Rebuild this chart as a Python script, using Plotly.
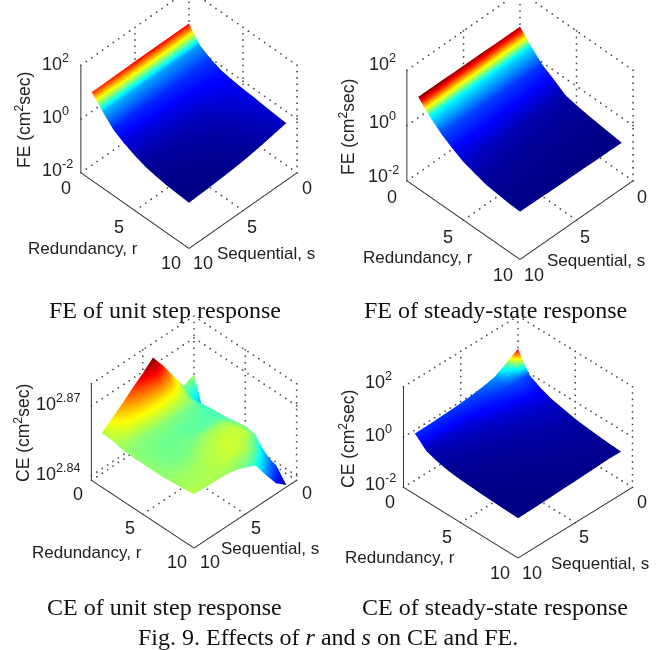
import math
import plotly.graph_objects as go

W, H = 657, 650

r_values = [1, 2, 3, 4, 5, 6, 7, 8, 9, 10]
s_values = [1, 2, 3, 4, 5, 6, 7, 8, 9, 10]
axis_ticks = [0, 5, 10]

# log10 of the response, rows r = 1..10, columns s = 1..10
fe_step_log = [
    [1.30, 1.30, 1.30, 1.30, 1.30, 1.30, 1.29, 1.29, 1.28, 1.28],
    [0.78, 0.78, 0.78, 0.79, 0.80, 0.80, 0.81, 0.82, 0.83, 0.84],
    [0.55, 0.53, 0.52, 0.51, 0.50, 0.49, 0.48, 0.47, 0.46, 0.45],
    [0.40, 0.37, 0.34, 0.31, 0.29, 0.27, 0.25, 0.24, 0.23, 0.22],
    [0.33, 0.29, 0.24, 0.19, 0.15, 0.12, 0.09, 0.07, 0.05, 0.04],
    [0.28, 0.22, 0.15, 0.09, 0.04, 0.00, -0.03, -0.05, -0.08, -0.10],
    [0.25, 0.17, 0.09, 0.02, -0.04, -0.08, -0.11, -0.14, -0.16, -0.18],
    [0.20, 0.12, 0.04, -0.03, -0.09, -0.13, -0.17, -0.20, -0.22, -0.24],
    [0.16, 0.08, 0.00, -0.07, -0.13, -0.17, -0.20, -0.23, -0.25, -0.27],
    [0.13, 0.05, -0.03, -0.10, -0.16, -0.20, -0.23, -0.26, -0.28, -0.30],
]
fe_steady_log = [
    [1.30, 1.30, 1.30, 1.31, 1.31, 1.31, 1.31, 1.32, 1.32, 1.32],
    [0.86, 0.86, 0.86, 0.87, 0.87, 0.88, 0.88, 0.89, 0.89, 0.90],
    [0.48, 0.49, 0.50, 0.51, 0.52, 0.53, 0.54, 0.55, 0.56, 0.57],
    [0.24, 0.24, 0.25, 0.26, 0.27, 0.28, 0.29, 0.30, 0.31, 0.32],
    [-0.03, -0.03, -0.02, -0.01, 0.01, 0.03, 0.05, 0.07, 0.09, 0.10],
    [-0.12, -0.12, -0.12, -0.11, -0.10, -0.09, -0.07, -0.06, -0.04, -0.03],
    [-0.19, -0.19, -0.19, -0.19, -0.18, -0.18, -0.17, -0.16, -0.16, -0.15],
    [-0.24, -0.24, -0.24, -0.24, -0.23, -0.23, -0.22, -0.22, -0.21, -0.20],
    [-0.29, -0.29, -0.29, -0.28, -0.28, -0.27, -0.27, -0.26, -0.26, -0.25],
    [-0.34, -0.33, -0.33, -0.32, -0.31, -0.31, -0.30, -0.29, -0.28, -0.27],
]
ce_step_log = [
    [2.8602, 2.8581, 2.8653, 2.8726, 2.8790, 2.8751, 2.8717, 2.8679, 2.8645, 2.8611],
    [2.8457, 2.8551, 2.8610, 2.8642, 2.8650, 2.8650, 2.8642, 2.8634, 2.8625, 2.8610],
    [2.8448, 2.8559, 2.8580, 2.8585, 2.8589, 2.8593, 2.8593, 2.8593, 2.8596, 2.8598],
    [2.8453, 2.8564, 2.8572, 2.8576, 2.8576, 2.8580, 2.8582, 2.8585, 2.8589, 2.8596],
    [2.8457, 2.8568, 2.8576, 2.8576, 2.8578, 2.8582, 2.8582, 2.8585, 2.8589, 2.8596],
    [2.8457, 2.8576, 2.8600, 2.8602, 2.8600, 2.8590, 2.8584, 2.8585, 2.8589, 2.8596],
    [2.8457, 2.8585, 2.8612, 2.8616, 2.8612, 2.8606, 2.8596, 2.8592, 2.8594, 2.8596],
    [2.8457, 2.8576, 2.8615, 2.8620, 2.8620, 2.8612, 2.8606, 2.8602, 2.8602, 2.8600],
    [2.8445, 2.8500, 2.8576, 2.8610, 2.8618, 2.8616, 2.8610, 2.8606, 2.8604, 2.8604],
    [2.8389, 2.8425, 2.8490, 2.8559, 2.8580, 2.8596, 2.8604, 2.8606, 2.8608, 2.8611],
]
ce_steady_log = [
    [1.25, 1.00, 0.72, 0.62, 0.55, 0.50, 0.47, 0.45, 0.43, 0.42],
    [0.50, 0.55, 0.48, 0.38, 0.30, 0.22, 0.16, 0.10, 0.05, 0.00],
    [0.25, 0.28, 0.22, 0.15, 0.08, 0.02, -0.03, -0.07, -0.11, -0.15],
    [0.08, 0.10, 0.05, 0.00, -0.05, -0.10, -0.14, -0.18, -0.22, -0.25],
    [-0.02, 0.00, -0.05, -0.10, -0.14, -0.18, -0.21, -0.24, -0.27, -0.30],
    [-0.12, -0.10, -0.13, -0.16, -0.20, -0.23, -0.26, -0.28, -0.31, -0.33],
    [-0.18, -0.17, -0.20, -0.22, -0.25, -0.27, -0.30, -0.32, -0.34, -0.36],
    [-0.23, -0.22, -0.24, -0.26, -0.29, -0.31, -0.33, -0.35, -0.37, -0.38],
    [-0.27, -0.26, -0.28, -0.30, -0.32, -0.34, -0.36, -0.38, -0.39, -0.40],
    [-0.30, -0.29, -0.31, -0.33, -0.35, -0.36, -0.38, -0.40, -0.41, -0.42],
]

JET = [[0, "rgb(0,0,135)"], [0.07, "rgb(0,0,255)"], [0.36, "rgb(0,255,255)"],
       [0.61, "rgb(255,255,0)"], [0.86, "rgb(255,0,0)"], [1, "rgb(128,0,0)"]]

# geometry of each box on the page: left x, right x, floor y at the sides, front y, top y of the z axis
panels = [
    dict(data=fe_step_log, zr=(-2, 2), zt=[-2, 0, 2], box=(80, 297, 173, 249, 65), cmax_log=1.36),
    dict(data=fe_steady_log, zr=(-2, 2), zt=[-2, 0, 2], box=(406, 633, 181, 260, 70), cmax_log=1.32),
    dict(data=ce_step_log, zr=(2.838, 2.8794), zt=[2.84, 2.87], box=(91, 297, 480, 548, 383), cmax_log=2.879),
    dict(data=ce_steady_log, zr=(-2, 2), zt=[-2, 0, 2], box=(403, 633, 487, 558, 386), cmax_log=1.30),
]

K = 135.0   # pixels per camera unit (calibrated)
DOM = 270
EYE = 4.0
DOT_PX = 6.5

fig = go.Figure()
layout_scenes = {}


def seg(p0, p1, n):
    return [p0 + (p1 - p0) * j / n for j in range(n + 1)]


def dotted(name, xs, ys, zlogs, n):
    """Dotted grid line between two axis positions, drawn as small markers."""
    fig.add_trace(go.Scatter3d(
        x=seg(xs[0], xs[1], n), y=seg(ys[0], ys[1], n),
        z=[10 ** v for v in seg(zlogs[0], zlogs[1], n)],
        mode="markers", scene=name, showlegend=False, hoverinfo="skip",
        marker=dict(color="#444", size=0.8, symbol="square", line=dict(width=0))))


def solid(name, xs, ys, zs):
    fig.add_trace(go.Scatter3d(x=xs, y=ys, z=zs, mode="lines", scene=name, showlegend=False,
                               hoverinfo="skip", line=dict(color="#333", width=2)))


for i, p in enumerate(panels):
    name = "scene" if i == 0 else f"scene{i+1}"
    zvals = [[10 ** v for v in row] for row in p["data"]]
    fig.add_trace(go.Surface(x=s_values, y=r_values, z=zvals, surfacecolor=zvals, scene=name,
                             colorscale=JET, showscale=False, hoverinfo="skip",
                             cmin=min(map(min, zvals)), cmax=10 ** p["cmax_log"],
                             lighting=dict(ambient=1, diffuse=0, specular=0, roughness=1, fresnel=0),
                             contours=dict(x=dict(show=False), y=dict(show=False), z=dict(show=False))))
    zl, zh = p["zr"]
    a, b = axis_ticks[0], axis_ticks[-1]
    xl, xr, yf, yfr, yt = p["box"]
    nf = max(4, round(((xr - xl) / 2 * 1.22) / DOT_PX))
    nz = max(4, round((yf - yt) / DOT_PX))
    for t in axis_ticks[:-1]:
        dotted(name, [t, t], [a, b], [zl, zl], nf)   # floor lines
        dotted(name, [a, b], [t, t], [zl, zl], nf)
    for t in axis_ticks:
        dotted(name, [a, a], [t, t], [zl, zh], nz)   # wall s = 0
    for t in axis_ticks[:-1]:
        dotted(name, [t, t], [a, a], [zl, zh], nz)   # wall r = 0
    dotted(name, [a, a], [a, b], [zh, zh], nf)
    dotted(name, [a, b], [a, a], [zh, zh], nf)
    for v in p["zt"]:
        dotted(name, [a, a], [a, b], [v, v], nf)
        dotted(name, [a, b], [a, a], [v, v], nf)
    lo, hi = 10 ** zl, 10 ** zh
    solid(name, [b, b], [a, b], [lo, lo])   # r axis along s = 10
    solid(name, [a, b], [b, b], [lo, lo])   # s axis along r = 10
    solid(name, [b, b], [a, a], [lo, hi])   # z axis

    dx = (xr - xl) / 2
    dy = yfr - yf
    el = math.asin(min(dy / dx, 0.99))
    kl = (xr - xl) / math.sqrt(2)
    kh = (yf - yt) / math.cos(el)
    cx = (xl + xr) / 2
    top = yf - dy - (yf - yt)
    cy = (top + yfr) / 2
    y0 = max(0, cy - DOM / 2)
    y1 = y0 + DOM
    x0 = cx - DOM / 2
    x1 = cx + DOM / 2
    shift_px = (y0 + DOM / 2) - cy  # move picture up by this many px
    dz = -shift_px / (math.cos(el) * K)
    ax = dict(visible=False, showspikes=False)
    pad = (zh - zl) * 0.002
    pad_xy = (b - a) * 0.002
    layout_scenes[name] = dict(
        domain=dict(x=[x0 / W, x1 / W], y=[1 - y1 / H, 1 - y0 / H]),
        aspectmode="manual", aspectratio=dict(x=kl / K, y=kl / K, z=kh / K),
        xaxis=dict(ax, range=[a - pad_xy, b + pad_xy]), yaxis=dict(ax, range=[a - pad_xy, b + pad_xy]),
        zaxis=dict(ax, type="log", range=[zl - pad, zh + pad]),
        bgcolor="rgba(0,0,0,0)",
        camera=dict(projection=dict(type="orthographic"),
                    up=dict(x=0, y=0, z=1),
                    center=dict(x=0, y=0, z=dz),
                    eye=dict(x=EYE * math.cos(el) / math.sqrt(2), y=EYE * math.cos(el) / math.sqrt(2),
                             z=EYE * math.sin(el) + dz)),
    )

SANS = "Liberation Sans"
SERIF = "Liberation Serif"
anns = []


def label(x, y, text, size=18, family=SANS, angle=0, color="#222"):
    anns.append(dict(x=x / W, y=1 - y / H, xref="paper", yref="paper", text=text, showarrow=False,
                     xanchor="center", yanchor="middle", textangle=angle,
                     font=dict(family=family, size=size, color=color)))


Z_TITLE_FE = "FE (cm<sup>2</sup>sec)"
Z_TITLE_CE = "CE (cm<sup>2</sup>sec)"
R_TITLE = "Redundancy, r"
S_TITLE = "Sequential, s"

ticks_z = [
    [(55, 62, "10<sup>2</sup>"), (55, 115, "10<sup>0</sup>"), (57, 168, "10<sup>-2</sup>")],
    [(382, 63, "10<sup>2</sup>"), (382, 120, "10<sup>0</sup>"), (383, 175, "10<sup>-2</sup>")],
    [(58, 402, "10<sup>2.87</sup>"), (58, 472, "10<sup>2.84</sup>")],
    [(378, 380, "10<sup>2</sup>"), (378, 433, "10<sup>0</sup>"), (380, 482, "10<sup>-2</sup>")],
]
for group in ticks_z:
    for x, y, t in group:
        label(x, y, t)

floor_ticks = [
    [(66, 188, "0"), (119, 227, "5"), (171, 263, "10"), (307, 188, "0"), (252, 227, "5"), (203, 263, "10")],
    [(392, 197, "0"), (448, 237, "5"), (503, 275, "10"), (642, 197, "0"), (585, 237, "5"), (534, 275, "10")],
    [(78, 494, "0"), (130, 528, "5"), (177, 562, "10"), (307, 493, "0"), (256, 528, "5"), (210, 562, "10")],
    [(390, 502, "0"), (447, 537, "5"), (500, 573, "10"), (642, 502, "0"), (584, 537, "5"), (532, 573, "10")],
]
for group in floor_ticks:
    for x, y, t in group:
        label(x, y, t)

for x, y in [(83, 248), (418, 257), (87, 552), (400, 557)]:
    label(x, y, R_TITLE, size=17)
for x, y in [(266, 253), (596, 260), (270, 548), (600, 563)]:
    label(x, y, S_TITLE, size=17)
label(23, 120, Z_TITLE_FE, size=17.5, angle=-90)
label(347, 127, Z_TITLE_FE, size=17.5, angle=-90)
label(22, 433, Z_TITLE_CE, size=17.5, angle=-90)
label(347, 439, Z_TITLE_CE, size=17.5, angle=-90)

label(165, 310, "FE of unit step response", size=24, family=SERIF, color="#111")
label(495, 310, "FE of steady-state response", size=24, family=SERIF, color="#111")
label(164, 607, "CE of unit step response", size=24, family=SERIF, color="#111")
label(495, 607, "CE of steady-state response", size=24, family=SERIF, color="#111")
label(328, 637, "Fig. 9. Effects of <i>r</i> and <i>s</i> on CE and FE.", size=24, family=SERIF, color="#111")

fig.update_layout(width=W, height=H, margin=dict(l=0, r=0, t=0, b=0), paper_bgcolor="white",
                  showlegend=False, annotations=anns, **layout_scenes)
fig.write_html("out.html", config=dict(displayModeBar=False),
               post_script="document.body.style.margin='0';document.documentElement.style.overflow='hidden';")
